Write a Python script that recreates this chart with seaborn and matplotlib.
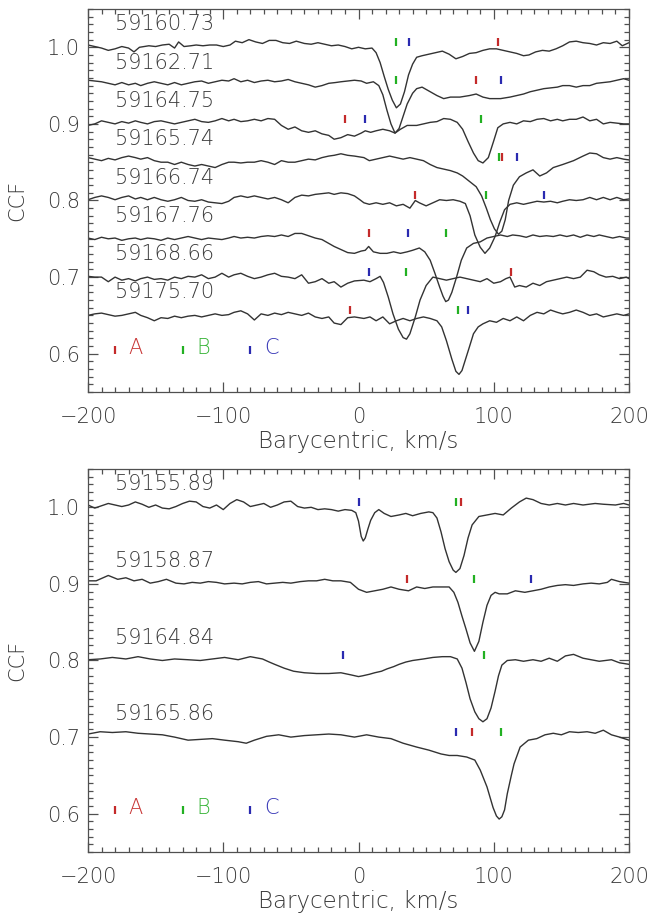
import numpy as np
import pandas as pd
import matplotlib
matplotlib.use("Agg")
import matplotlib.pyplot as plt
import seaborn as sns
from matplotlib.ticker import MultipleLocator, FormatStrFormatter

sns.set_style("ticks")
plt.rcParams['font.family'] = ['DejaVu Sans']
plt.rcParams['font.weight'] = 'light'

# ---------------- data: top panel ----------------
top_dates = ["59160.73", "59162.71", "59164.75", "59165.74",
             "59166.74", "59167.76", "59168.66", "59175.70"]
top_levels = [1.00, 0.95, 0.90, 0.85, 0.80, 0.75, 0.70, 0.65]

T1 = [(-200,1.003),(-195,1.001),(-190,0.999),(-185,0.996),(-180,0.998),(-175,1.001),(-170,0.999),(-166,0.994),(-162,1.000),(-155,1.002),(-150,1.001),(-145,1.003),(-140,1.004),(-136,0.999),(-133,1.007),(-129,1.001),(-124,1.002),(-120,1.003),(-115,1.002),(-110,1.003),(-105,1.003),(-100,1.001),(-95,1.003),(-91,1.008),(-86,1.006),(-81,1.010),(-76,1.007),(-71,1.005),(-66,1.009),(-61,1.009),(-56,1.006),(-51,1.005),(-46,1.008),(-40,1.005),(-35,1.004),(-30,1.006),(-25,1.004),(-20,1.002),(-15,1.003),(-10,1.001),(-5,0.998),(0,1.000),(5,0.998),(10,0.999),(13,0.993),(16,0.980),(19,0.962),(22,0.945),(25,0.931),(28,0.921),(31,0.926),(34,0.942),(37,0.964),(40,0.978),(43,0.987),(47,0.989),(52,0.991),(57,0.993),(62,0.995),(67,0.991),(72,0.985),(77,0.988),(82,0.992),(87,0.993),(92,0.996),(97,0.998),(102,0.998),(107,0.996),(112,0.994),(117,0.992),(122,0.989),(126,0.990),(131,0.994),(136,0.996),(141,0.995),(146,0.998),(151,1.002),(156,1.007),(161,1.008),(166,1.006),(171,1.005),(176,1.003),(181,1.006),(186,1.005),(191,1.008),(195,1.002),(200,1.006)]
T2 = [(-200,0.957),(-195,0.956),(-190,0.955),(-185,0.953),(-180,0.951),(-175,0.954),(-170,0.951),(-165,0.953),(-161,0.950),(-156,0.953),(-151,0.955),(-146,0.953),(-141,0.951),(-136,0.954),(-131,0.951),(-126,0.953),(-121,0.955),(-116,0.956),(-111,0.953),(-106,0.955),(-101,0.957),(-96,0.956),(-92,0.959),(-87,0.955),(-82,0.957),(-77,0.954),(-72,0.956),(-67,0.957),(-62,0.955),(-57,0.956),(-52,0.958),(-47,0.955),(-42,0.953),(-37,0.951),(-32,0.948),(-27,0.950),(-22,0.953),(-17,0.954),(-13,0.955),(-8,0.956),(-3,0.957),(2,0.956),(6,0.953),(11,0.955),(15,0.950),(18,0.938),(21,0.918),(24,0.900),(27,0.888),(30,0.894),(33,0.910),(36,0.926),(40,0.940),(43,0.946),(47,0.948),(53,0.942),(58,0.937),(63,0.933),(68,0.935),(75,0.935),(82,0.937),(87,0.939),(92,0.935),(97,0.933),(105,0.933),(112,0.935),(117,0.937),(122,0.939),(127,0.942),(132,0.944),(137,0.946),(142,0.947),(147,0.948),(151,0.950),(156,0.950),(161,0.948),(166,0.950),(171,0.950),(176,0.953),(181,0.954),(186,0.955),(191,0.957),(196,0.959),(200,0.957)]
T3 = [(-200,0.898),(-195,0.900),(-190,0.904),(-185,0.902),(-180,0.900),(-175,0.903),(-170,0.901),(-165,0.904),(-161,0.902),(-156,0.900),(-151,0.903),(-146,0.904),(-141,0.902),(-136,0.900),(-131,0.902),(-126,0.904),(-121,0.906),(-116,0.903),(-111,0.902),(-106,0.904),(-101,0.907),(-96,0.904),(-92,0.906),(-87,0.903),(-82,0.904),(-77,0.906),(-72,0.904),(-67,0.907),(-62,0.906),(-57,0.898),(-52,0.893),(-47,0.896),(-42,0.891),(-37,0.889),(-32,0.891),(-27,0.887),(-22,0.885),(-18,0.880),(-13,0.882),(-8,0.886),(-3,0.884),(2,0.888),(5,0.891),(9,0.889),(13,0.891),(18,0.893),(23,0.891),(27,0.888),(31,0.893),(36,0.898),(43,0.898),(48,0.900),(53,0.902),(58,0.903),(63,0.907),(68,0.906),(73,0.902),(77,0.893),(81,0.877),(85,0.862),(88.5,0.852),(92,0.849),(96,0.856),(100,0.878),(103,0.895),(107,0.900),(112,0.902),(117,0.900),(122,0.904),(127,0.903),(132,0.906),(137,0.907),(142,0.904),(147,0.906),(151,0.904),(156,0.906),(161,0.906),(166,0.909),(171,0.904),(176,0.906),(181,0.900),(186,0.902),(191,0.901),(196,0.900),(200,0.900)]
T4 = [(-200,0.856),(-195,0.854),(-190,0.852),(-185,0.855),(-180,0.853),(-175,0.856),(-170,0.858),(-165,0.856),(-161,0.854),(-156,0.856),(-151,0.852),(-146,0.850),(-141,0.850),(-136,0.847),(-131,0.850),(-126,0.847),(-121,0.845),(-116,0.847),(-111,0.845),(-106,0.843),(-101,0.847),(-96,0.850),(-92,0.850),(-87,0.849),(-82,0.850),(-77,0.850),(-72,0.852),(-67,0.850),(-62,0.847),(-57,0.852),(-52,0.850),(-47,0.850),(-42,0.852),(-37,0.854),(-32,0.853),(-27,0.856),(-22,0.858),(-18,0.859),(-13,0.861),(-8,0.859),(-3,0.858),(4,0.856),(8,0.852),(13,0.854),(18,0.856),(23,0.858),(28,0.856),(33,0.854),(38,0.856),(43,0.854),(48,0.852),(53,0.847),(58,0.843),(63,0.841),(68,0.839),(73,0.836),(77,0.832),(82,0.825),(87,0.818),(91,0.806),(94.5,0.790),(97.5,0.775),(100.5,0.763),(103.5,0.756),(106,0.760),(108.5,0.775),(111,0.800),(114.5,0.820),(119,0.831),(124,0.836),(129,0.840),(134,0.832),(139,0.836),(144,0.843),(151,0.847),(159,0.852),(166,0.858),(171,0.862),(176,0.861),(181,0.856),(186,0.854),(191,0.856),(196,0.854),(200,0.853)]
T5 = [(-200,0.801),(-195,0.804),(-190,0.806),(-185,0.804),(-180,0.801),(-175,0.804),(-170,0.806),(-165,0.802),(-161,0.804),(-156,0.801),(-151,0.804),(-146,0.801),(-141,0.799),(-136,0.801),(-131,0.804),(-126,0.800),(-121,0.799),(-116,0.801),(-111,0.798),(-106,0.797),(-101,0.796),(-96,0.799),(-92,0.804),(-87,0.806),(-82,0.804),(-77,0.806),(-72,0.804),(-67,0.802),(-62,0.804),(-57,0.801),(-52,0.797),(-47,0.804),(-42,0.807),(-37,0.806),(-32,0.808),(-27,0.809),(-22,0.810),(-18,0.808),(-13,0.810),(-8,0.809),(-3,0.806),(1,0.801),(4,0.797),(8,0.795),(13,0.797),(18,0.795),(23,0.797),(28,0.793),(33,0.795),(38,0.790),(42,0.800),(45,0.797),(50,0.793),(55,0.797),(60,0.801),(65,0.800),(70,0.801),(75,0.799),(79,0.796),(82.5,0.780),(86,0.755),(90,0.739),(93.5,0.731),(97,0.738),(101,0.753),(104.5,0.772),(108,0.788),(112,0.795),(117,0.797),(122,0.795),(127,0.797),(132,0.799),(137,0.798),(142,0.799),(147,0.797),(151,0.799),(156,0.801),(161,0.800),(166,0.801),(171,0.804),(176,0.801),(181,0.804),(186,0.801),(191,0.804),(196,0.801),(200,0.802)]
T6 = [(-200,0.751),(-195,0.749),(-190,0.752),(-185,0.750),(-180,0.751),(-175,0.748),(-170,0.750),(-165,0.751),(-161,0.749),(-156,0.751),(-151,0.750),(-146,0.748),(-141,0.751),(-136,0.749),(-131,0.751),(-126,0.753),(-121,0.751),(-116,0.749),(-111,0.751),(-106,0.750),(-101,0.749),(-96,0.751),(-92,0.753),(-87,0.751),(-82,0.752),(-77,0.751),(-72,0.753),(-67,0.754),(-62,0.753),(-57,0.755),(-52,0.753),(-47,0.757),(-42,0.757),(-37,0.754),(-32,0.751),(-27,0.749),(-22,0.744),(-18,0.740),(-13,0.736),(-8,0.732),(-3,0.731),(2,0.734),(5,0.735),(7.5,0.740),(11,0.733),(16,0.731),(21,0.731),(26,0.733),(31,0.731),(36,0.733),(40,0.735),(45,0.738),(49,0.733),(53,0.722),(56.5,0.705),(60,0.687),(62.5,0.675),(64.5,0.668),(66.5,0.670),(69,0.680),(72.5,0.700),(76,0.722),(80,0.738),(85,0.744),(90,0.746),(95,0.751),(100,0.753),(105,0.755),(110,0.753),(114,0.755),(119,0.754),(124,0.752),(129,0.755),(134,0.753),(139,0.754),(144,0.753),(149,0.755),(154,0.753),(159,0.755),(164,0.752),(169,0.755),(174,0.753),(178,0.755),(183,0.753),(188,0.751),(193,0.753),(198,0.751),(200,0.751)]
T7 = [(-200,0.701),(-195,0.700),(-190,0.700),(-185,0.694),(-180,0.700),(-175,0.696),(-170,0.698),(-165,0.695),(-161,0.698),(-156,0.700),(-151,0.697),(-146,0.698),(-141,0.696),(-136,0.700),(-131,0.698),(-126,0.701),(-121,0.700),(-116,0.703),(-111,0.698),(-106,0.700),(-101,0.705),(-96,0.700),(-92,0.703),(-87,0.705),(-82,0.701),(-77,0.698),(-72,0.700),(-67,0.703),(-62,0.705),(-57,0.701),(-52,0.700),(-47,0.698),(-42,0.703),(-37,0.692),(-32,0.694),(-27,0.698),(-22,0.692),(-18,0.694),(-13,0.687),(-8,0.692),(-3,0.695),(4,0.696),(8.5,0.694),(13,0.698),(16,0.701),(18.5,0.693),(22,0.674),(25.5,0.652),(29.5,0.632),(33,0.621),(35.5,0.619),(38,0.626),(42,0.648),(45.5,0.670),(50,0.689),(55,0.700),(60,0.698),(65,0.696),(70,0.698),(75,0.700),(80,0.698),(85,0.696),(90,0.694),(95,0.698),(100,0.692),(105,0.694),(109,0.698),(112,0.700),(115.5,0.687),(119,0.689),(124,0.687),(129,0.692),(134,0.689),(139,0.694),(144,0.696),(149,0.698),(154,0.700),(159,0.698),(164,0.700),(169,0.709),(174,0.707),(178,0.703),(183,0.700),(188,0.701),(193,0.698),(198,0.700),(200,0.698)]
T8 = [(-200,0.650),(-195,0.652),(-190,0.653),(-185,0.651),(-180,0.649),(-175,0.650),(-170,0.652),(-165,0.654),(-161,0.650),(-156,0.647),(-151,0.643),(-146,0.647),(-141,0.646),(-136,0.649),(-131,0.647),(-126,0.649),(-121,0.650),(-116,0.648),(-111,0.650),(-106,0.652),(-101,0.650),(-96,0.651),(-92,0.654),(-87,0.656),(-82,0.652),(-77,0.644),(-72,0.652),(-67,0.650),(-62,0.653),(-57,0.651),(-52,0.654),(-47,0.652),(-42,0.650),(-37,0.653),(-32,0.648),(-27,0.646),(-22,0.648),(-18,0.640),(-13,0.638),(-8,0.647),(-3,0.648),(4,0.646),(8.5,0.648),(13,0.643),(18,0.648),(23,0.639),(28,0.643),(33,0.646),(38,0.643),(43,0.646),(48,0.648),(53,0.646),(58,0.643),(61.5,0.635),(65,0.617),(69,0.593),(72,0.577),(74.3,0.573),(76.5,0.578),(79,0.592),(81.5,0.606),(85,0.626),(88.5,0.635),(92,0.639),(97,0.643),(102,0.641),(107,0.646),(112,0.643),(117,0.648),(122,0.643),(127,0.650),(132,0.654),(137,0.652),(142,0.657),(147,0.654),(151,0.652),(156,0.654),(161,0.657),(166,0.654),(171,0.650),(176,0.652),(181,0.648),(186,0.650),(191,0.652),(196,0.650),(200,0.652)]
top_curves = [T1, T2, T3, T4, T5, T6, T7, T8]

# component velocities (km/s) marked above each top-panel curve
top_A = [103.2, 86.6, -9.8, 106.3, 42.0, 7.7, 112.4, -6.5]
top_B = [28.0, 28.0, 90.6, 104.1, 94.3, 64.8, 35.3, 73.7]
top_C = [37.2, 105.0, 4.6, 117.4, 137.0, 36.9, 7.7, 80.8]

# ---------------- data: bottom panel ----------------
bot_dates = ["59155.89", "59158.87", "59164.84", "59165.86"]
bot_levels = [1.00, 0.90, 0.80, 0.70]

B1 = [(-200,1.003),(-195,0.999),(-190,1.002),(-185,1.005),(-180,1.003),(-175,1.001),(-170,1.003),(-165,1.007),(-160,1.004),(-155,1.000),(-150,1.003),(-145,0.999),(-140,0.998),(-135,1.001),(-130,1.005),(-125,1.008),(-120,1.007),(-115,1.001),(-110,0.999),(-105,1.003),(-100,0.997),(-95,1.005),(-90,1.010),(-85,1.007),(-80,1.001),(-75,1.003),(-70,1.005),(-65,1.000),(-60,1.003),(-55,1.007),(-50,1.008),(-45,1.001),(-40,0.999),(-35,1.000),(-30,0.997),(-25,0.998),(-20,0.997),(-15,0.995),(-10,0.997),(-5,0.996),(-2,0.993),(0,0.982),(2,0.962),(3.5,0.956),(5,0.960),(7,0.972),(9,0.983),(12,0.993),(15,0.997),(19,0.992),(24,0.988),(30,0.990),(35,0.992),(40,0.989),(46,0.992),(52,0.994),(55,0.993),(58,0.986),(61,0.968),(64,0.946),(67,0.929),(70,0.918),(72,0.915),(75,0.920),(78,0.937),(81,0.960),(84,0.977),(89,0.988),(95,0.990),(101,0.992),(107,0.990),(113,0.999),(119,1.007),(124,1.012),(129,1.010),(135,1.005),(141,1.003),(147,1.005),(153,1.003),(159,1.005),(166,1.003),(175,1.005),(181,1.004),(190,1.003),(196,1.005),(200,1.003)]
B2 = [(-200,0.904),(-194,0.904),(-185,0.911),(-178,0.906),(-172,0.908),(-166,0.904),(-160,0.906),(-154,0.901),(-148,0.903),(-142,0.906),(-135,0.901),(-129,0.900),(-123,0.902),(-117,0.901),(-111,0.903),(-105,0.902),(-99,0.900),(-92,0.901),(-86,0.900),(-80,0.902),(-74,0.903),(-68,0.900),(-62,0.901),(-56,0.902),(-50,0.901),(-43,0.903),(-37,0.904),(-31,0.904),(-25,0.906),(-19,0.904),(-13,0.904),(-6,0.902),(0,0.893),(6,0.889),(12,0.891),(18,0.893),(24,0.896),(30,0.893),(37,0.891),(43,0.896),(49,0.894),(55,0.896),(61,0.896),(67,0.896),(70.5,0.889),(73.5,0.876),(76.5,0.858),(79.5,0.841),(82.5,0.823),(85.7,0.812),(89,0.825),(92,0.850),(95,0.872),(98,0.885),(101,0.889),(104,0.887),(110,0.887),(116,0.891),(123,0.889),(129,0.891),(135,0.893),(141,0.896),(147,0.898),(153,0.899),(159,0.898),(166,0.900),(172,0.901),(178,0.900),(184,0.902),(187,0.906),(193,0.903),(200,0.901)]
B3 = [(-200,0.801),(-191,0.802),(-182,0.804),(-172,0.802),(-163,0.805),(-154,0.802),(-145,0.800),(-136,0.802),(-126,0.801),(-117,0.800),(-108,0.802),(-99,0.804),(-89,0.801),(-80,0.805),(-71,0.802),(-66,0.798),(-62,0.795),(-55,0.790),(-48,0.786),(-40,0.784),(-31,0.783),(-22,0.783),(-13,0.784),(-5,0.781),(0,0.779),(3,0.780),(8,0.782),(12,0.784),(17,0.786),(21,0.789),(26,0.792),(30,0.795),(35,0.798),(40,0.800),(48,0.802),(55,0.804),(62,0.805),(68,0.805),(73,0.802),(76.5,0.790),(79.5,0.771),(82.5,0.750),(86,0.733),(89,0.724),(92,0.720),(95,0.724),(98,0.738),(101,0.760),(103.5,0.780),(106,0.794),(110,0.800),(116,0.801),(122,0.799),(129,0.801),(135,0.799),(141,0.803),(147,0.799),(153,0.806),(159,0.808),(166,0.803),(172,0.801),(178,0.799),(187,0.801),(193,0.797),(200,0.795)]
B4 = [(-200,0.704),(-191,0.707),(-182,0.706),(-172,0.707),(-163,0.705),(-154,0.704),(-145,0.703),(-136,0.700),(-126,0.696),(-117,0.697),(-108,0.698),(-99,0.696),(-89,0.694),(-83,0.692),(-77,0.696),(-68,0.701),(-59,0.703),(-50,0.700),(-40,0.702),(-31,0.703),(-22,0.704),(-13,0.703),(-3,0.700),(6,0.703),(15,0.700),(24,0.698),(33,0.692),(43,0.687),(52,0.683),(61,0.678),(67,0.676),(73,0.676),(80,0.674),(86,0.670),(90,0.657),(95,0.635),(99.5,0.608),(102,0.597),(104,0.593),(106,0.596),(108,0.605),(110,0.626),(113,0.650),(115,0.665),(119.5,0.687),(125.6,0.696),(131.8,0.698),(137.9,0.703),(144,0.705),(150,0.703),(156,0.707),(162.5,0.706),(169,0.707),(175,0.705),(181,0.709),(187,0.703),(193,0.700),(200,0.696)]
bot_curves = [B1, B2, B3, B4]

bot_A = [75.9, 36.0, np.nan, 83.6]
bot_B = [71.9, 85.7, 92.8, 105.0]
bot_C = [0.3, 127.8, -11.7, 71.9]

comp_names = ["A", "B", "C"]
comp_colors = ["#c42a2a", "#22b022", "#2a2ab0"]
text_colors = ["#c83636", "#36b436", "#3a3ab8"]
legend_v = [-180, -130, -80]

GRAY = "#505050"
TXT = "#3a3a3a"
LINE = "#333333"
FS = 15

fig = plt.figure(figsize=(6.52, 9.19), dpi=100)
ax_top = fig.add_axes([88/652, 1 - 392/919, 541/652, 383/919])
ax_bot = fig.add_axes([88/652, 1 - 852/919, 541/652, 383/919])


def draw_panel(ax, curves, dates, levels, A, B, C):
    for curve, date, lev in zip(curves, dates, levels):
        df = pd.DataFrame(curve, columns=["v", "ccf"])
        sns.lineplot(data=df, x="v", y="ccf", ax=ax, color=LINE, linewidth=1.0,
                     estimator=None, sort=False)
        ax.text(-180, lev + 0.030, date, fontsize=FS, color=TXT,
                ha="left", va="center", fontweight="light")
    for comp, col in zip([A, B, C], comp_colors):
        mk = pd.DataFrame({"v": comp, "y": np.array(levels) + 0.007}).dropna()
        sns.scatterplot(data=mk, x="v", y="y", ax=ax, marker="|", s=40,
                        linewidth=1.6, color=col, zorder=3)
    # legend
    for i in range(3):
        sns.scatterplot(x=[legend_v[i]], y=[0.605], ax=ax, marker="|", s=40,
                        linewidth=1.6, color=comp_colors[i], zorder=3)
        ax.text(legend_v[i] + 10, 0.607, comp_names[i], fontsize=FS,
                color=text_colors[i], ha="left", va="center", fontweight="light")

    ax.set_xlim(-200, 200)
    ax.set_ylim(0.55, 1.05)
    ax.xaxis.set_major_locator(MultipleLocator(100))
    ax.xaxis.set_minor_locator(MultipleLocator(10))
    ax.yaxis.set_major_locator(MultipleLocator(0.1))
    ax.yaxis.set_minor_locator(MultipleLocator(0.01))
    ax.yaxis.set_major_formatter(FormatStrFormatter("%.1f"))
    ax.tick_params(which="both", direction="in", top=True, right=True,
                   color=GRAY, width=0.9)
    ax.tick_params(which="major", length=7.5)
    ax.tick_params(which="minor", length=3.8)
    ax.tick_params(axis="x", which="major", pad=11, labelsize=FS, labelcolor=TXT)
    ax.tick_params(axis="y", which="major", pad=6, labelsize=FS, labelcolor=TXT)
    for sp in ax.spines.values():
        sp.set_color(GRAY)
        sp.set_linewidth(0.9)
    ax.set_xlabel("Barycentric, km/s", fontsize=16.5, color=TXT, labelpad=2,
                  fontweight="light")
    ax.set_ylabel("CCF", fontsize=FS, color=TXT, labelpad=14, fontweight="light")
    if ax.get_legend() is not None:
        ax.get_legend().remove()


draw_panel(ax_top, top_curves, top_dates, top_levels, top_A, top_B, top_C)
draw_panel(ax_bot, bot_curves, bot_dates, bot_levels, bot_A, bot_B, bot_C)

fig.savefig("out.png", dpi=100)
